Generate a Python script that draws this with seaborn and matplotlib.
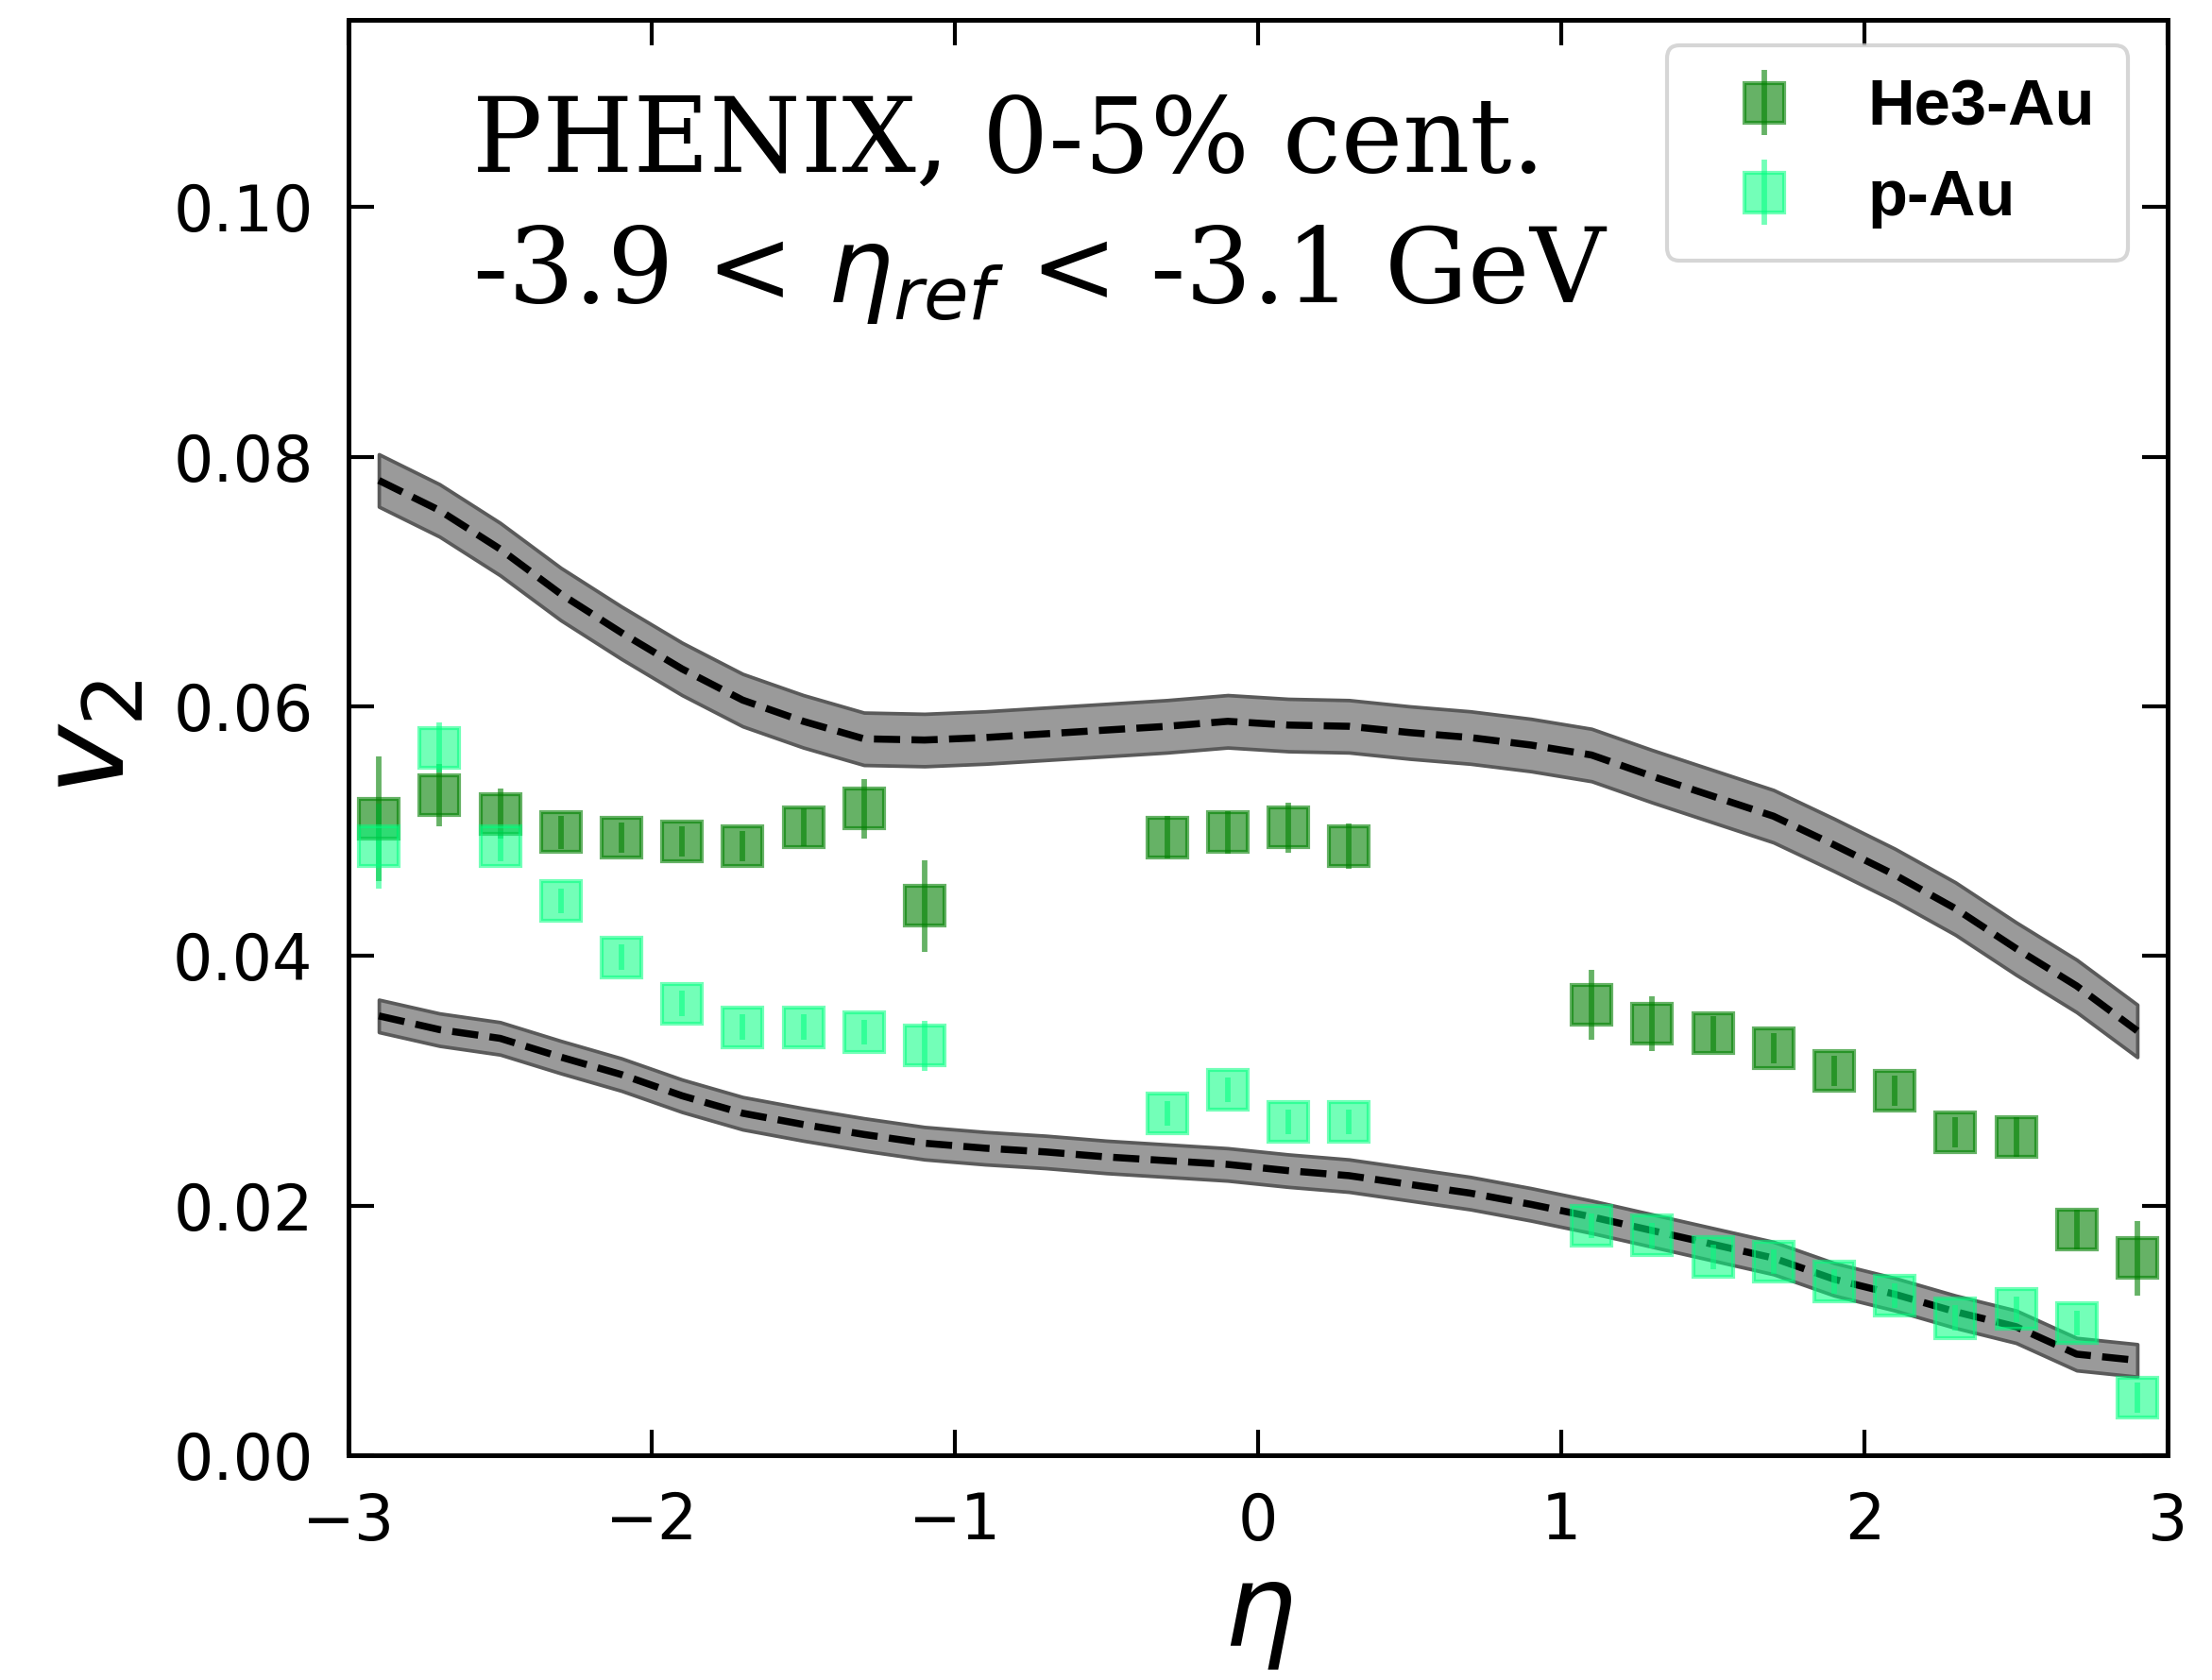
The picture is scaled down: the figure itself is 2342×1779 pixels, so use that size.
import numpy as np
import pandas as pd
import matplotlib
matplotlib.use("Agg")
import matplotlib.pyplot as plt
import seaborn as sns

# ---------------- data ----------------
eta_left = [-2.9, -2.7, -2.5, -2.3, -2.1, -1.9, -1.7, -1.5, -1.3, -1.1]
eta_mid = [-0.3, -0.1, 0.1, 0.3]
eta_right = [1.1, 1.3, 1.5, 1.7, 1.9, 2.1, 2.3, 2.5, 2.7, 2.9]
eta_data = eta_left + eta_mid + eta_right

he3_v2 = [0.0510, 0.0529, 0.0514, 0.0499, 0.0495, 0.0492, 0.0488, 0.0503, 0.0518, 0.0440,
          0.0495, 0.0499, 0.0503, 0.0488,
          0.0361, 0.0346, 0.0338, 0.0326, 0.0308, 0.0292, 0.0259, 0.0255, 0.0181, 0.0158]
he3_err = [0.0050, 0.0025, 0.0020, 0.0013, 0.0012, 0.0012, 0.0012, 0.0015, 0.0024, 0.0037,
           0.0017, 0.0017, 0.0020, 0.0018,
           0.0028, 0.0022, 0.0014, 0.0012, 0.0012, 0.0012, 0.0012, 0.0016, 0.0016, 0.0030]

pau_v2 = [0.0488, 0.0567, 0.0488, 0.0444, 0.0399, 0.0362, 0.0343, 0.0343, 0.0339, 0.0328,
          0.0274, 0.0293, 0.0267, 0.0267,
          0.0184, 0.0176, 0.0159, 0.0155, 0.0139, 0.0128, 0.0110, 0.0117, 0.0106, 0.0046]
pau_err = [0.0034, 0.0020, 0.0012, 0.0010, 0.0010, 0.0010, 0.0010, 0.0010, 0.0010, 0.0020,
           0.0010, 0.0010, 0.0010, 0.0010,
           0.0010, 0.0010, 0.0010, 0.0010, 0.0010, 0.0010, 0.0010, 0.0010, 0.0010, 0.0012]

eta_theory = [-2.9, -2.7, -2.5, -2.3, -2.1, -1.9, -1.7, -1.5, -1.3, -1.1,
              -0.9, -0.7, -0.5, -0.3, -0.1, 0.1, 0.3, 0.5, 0.7, 0.9,
              1.1, 1.3, 1.5, 1.7, 1.9, 2.1, 2.3, 2.5, 2.7, 2.9]
theory_he3 = [0.0781, 0.0757, 0.0726, 0.0690, 0.0659, 0.0630, 0.0605, 0.0588, 0.0574, 0.0573,
              0.0575, 0.0578, 0.0581, 0.0584, 0.0588, 0.0585, 0.0584, 0.0579, 0.0575, 0.0569,
              0.0561, 0.0544, 0.0528, 0.0512, 0.0489, 0.0465, 0.0438, 0.0406, 0.0376, 0.0340]
theory_he3_err = [0.0021] * 30
theory_pau = [0.0352, 0.0341, 0.0334, 0.0319, 0.0305, 0.0288, 0.0274, 0.0265, 0.0257, 0.0250,
              0.0246, 0.0243, 0.0239, 0.0236, 0.0233, 0.0228, 0.0224, 0.0217, 0.0210, 0.0201,
              0.0191, 0.0180, 0.0169, 0.0158, 0.0141, 0.0129, 0.0115, 0.0103, 0.0081, 0.0076]
theory_pau_err = [0.0013] * 30

x_ticks = [-3, -2, -1, 0, 1, 2, 3]
y_ticks = [0.00, 0.02, 0.04, 0.06, 0.08, 0.10]

# ---------------- style ----------------
sns.set_style("ticks")
plt.rcParams['font.family'] = ['DejaVu Sans']
plt.rcParams['mathtext.fontset'] = 'dejavusans'
for k in ['text.color', 'axes.labelcolor', 'xtick.color', 'ytick.color', 'axes.edgecolor']:
    plt.rcParams[k] = 'black'

W, H, DPI = 2342, 1779, 300
fig = plt.figure(figsize=(W / DPI, H / DPI), dpi=DPI)
ax = fig.add_axes([369 / W, 1 - 1541 / H, (2295 - 369) / W, (1541 - 21) / H])

theory_df = pd.DataFrame({
    "eta": eta_theory * 2,
    "v2": theory_he3 + theory_pau,
    "err": theory_he3_err + theory_pau_err,
    "model": ["He3"] * len(eta_theory) + ["pAu"] * len(eta_theory),
})

for model in ["He3", "pAu"]:
    d = theory_df[theory_df.model == model]
    ax.fill_between(d.eta, d.v2 - d.err, d.v2 + d.err, facecolor='#9a9a9a',
                    edgecolor='#5a5a5a', linewidth=0.9, zorder=1)

sns.lineplot(data=theory_df, x="eta", y="v2", units="model", estimator=None,
             color='black', linestyle='--', linewidth=1.8, legend=False, ax=ax, zorder=2)

ms = 10.3
ax.errorbar(eta_data, he3_v2, yerr=he3_err, fmt='s', color='green', alpha=0.6,
            markersize=ms, elinewidth=1.4, capsize=0, label='He3-Au', zorder=3)
ax.errorbar(eta_data, pau_v2, yerr=pau_err, fmt='s', color='springgreen', alpha=0.55,
            markersize=ms, elinewidth=1.4, capsize=0, label='p-Au', zorder=3)

ax.set_xlim(-3, 3)
ax.set_ylim(0, 0.115)
ax.set_xticks(x_ticks)
ax.set_yticks(y_ticks)
ax.set_yticklabels([f"{v:.2f}" for v in y_ticks])
ax.tick_params(direction='in', top=True, right=True, length=6.5, width=1.0,
               labelsize=16, pad=9)
for s in ax.spines.values():
    s.set_linewidth(1.2)
    s.set_color('black')

ax.set_xlabel(r'$\eta$', fontsize=29, labelpad=2)
ax.set_ylabel(r'$v_2$', fontsize=30, labelpad=6)

ax.text(0.068, 0.894, 'PHENIX, 0-5% cent.', transform=ax.transAxes,
        fontsize=26.5, family='DejaVu Serif', va='baseline', ha='left')
ax.text(0.068, 0.803, r'-3.9 < $\eta_{ref}$ < -3.1 GeV', transform=ax.transAxes,
        fontsize=26.5, family='DejaVu Serif', va='baseline', ha='left')

leg = ax.legend(loc='upper right', bbox_to_anchor=(0.978, 0.982),
                prop={'family': 'Liberation Sans', 'weight': 'bold', 'size': 16.5},
                handletextpad=0.6, borderaxespad=0.0, borderpad=0.5,
                labelspacing=0.45, fancybox=True)

fig.savefig('out.png', dpi=DPI)
